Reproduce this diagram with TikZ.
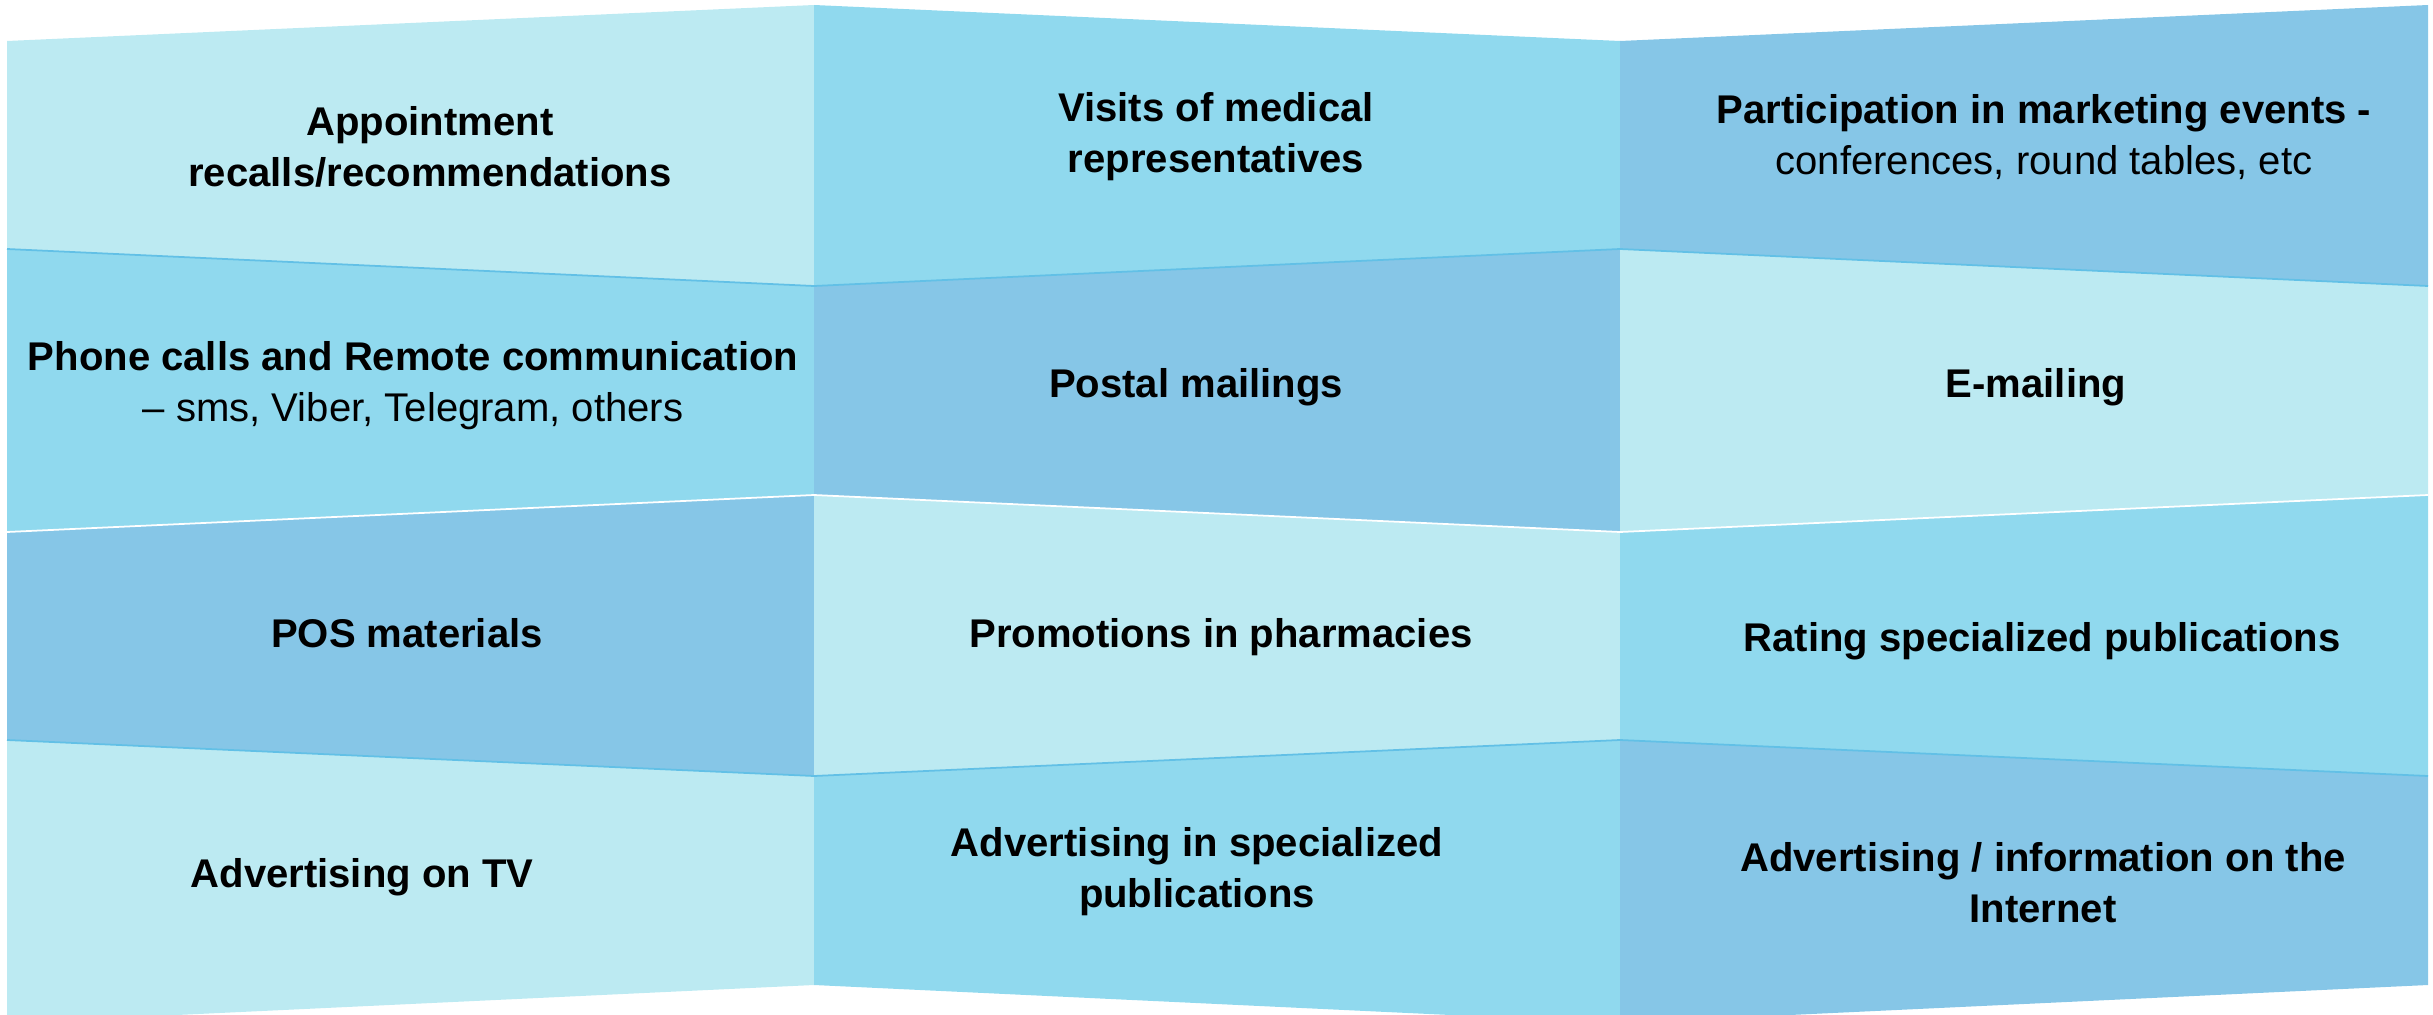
\documentclass[tikz,border=0pt]{standalone}
\usepackage{fontspec}
\setmainfont{Liberation Sans}

\definecolor{paleblue}{HTML}{BCEAF2}
\definecolor{skyblue}{HTML}{90D9EE}
\definecolor{deepblue}{HTML}{86C6E7}
\definecolor{seamblue}{HTML}{62C0E6}

\tikzset{
  channel/.style={font=\fontsize{11.4}{14.5}\selectfont\bfseries, align=center, text=black},
  seam/.style={line width=0.5pt},
}

\begin{document}
\begin{tikzpicture}[x=0.1mm, y=-0.1mm]
  \clip (0,0) rectangle (2433,1015);

  % fold points, four rows of three panels
  \foreach \i/\ya/\yb in {0/41/5, 1/249/286, 2/532/495, 3/740/776, 4/1023/985} {
    \coordinate (a\i) at (7,\ya);
    \coordinate (b\i) at (814,\yb);
    \coordinate (c\i) at (1620,\ya);
    \coordinate (d\i) at (2428,\yb);
  }

  % panels
  \foreach \i/\j/\ca/\cb/\cc in {0/1/paleblue/skyblue/deepblue,
                                 1/2/skyblue/deepblue/paleblue,
                                 2/3/deepblue/paleblue/skyblue,
                                 3/4/paleblue/skyblue/deepblue} {
    \fill[\ca] (a\i) -- (b\i) -- (b\j) -- (a\j) -- cycle;
    \fill[\cb] (b\i) -- (c\i) -- (c\j) -- (b\j) -- cycle;
    \fill[\cc] (c\i) -- (d\i) -- (d\j) -- (c\j) -- cycle;
  }

  % seams between the rows
  \foreach \i/\col in {1/seamblue, 2/white, 3/seamblue}
    \draw[seam, \col] (a\i) -- (b\i) -- (c\i) -- (d\i);

  % first column
  \node[channel] (recall) at (430,147) {Appointment\\recalls/recommendations};
  \node[channel] (phone) at (413,386) {Phone calls and Remote communication\\\mdseries -- sms, Viber, Telegram, others};
  \node[channel] (pos) at (407,633) {POS materials};
  \node[channel] (tv) at (362,877) {Advertising on TV};

  % second column
  \node[channel] (visits) at (1216,137) {Visits of medical\\representatives};
  \node[channel] (postal) at (1196,387) {Postal mailings};
  \node[channel] (promo) at (1221,637) {Promotions in pharmacies};
  \node[channel] (press) at (1197,872) {Advertising in specialized\\publications};

  % third column
  \node[channel] (events) at (2044,137) {Participation in marketing events -\\\mdseries conferences, round tables, etc};
  \node[channel] (email) at (2036,387) {E-mailing};
  \node[channel] (rating) at (2042,641) {Rating specialized publications};
  \node[channel] (web) at (2043,883) {Advertising / information on the\\Internet};
\end{tikzpicture}
\end{document}
